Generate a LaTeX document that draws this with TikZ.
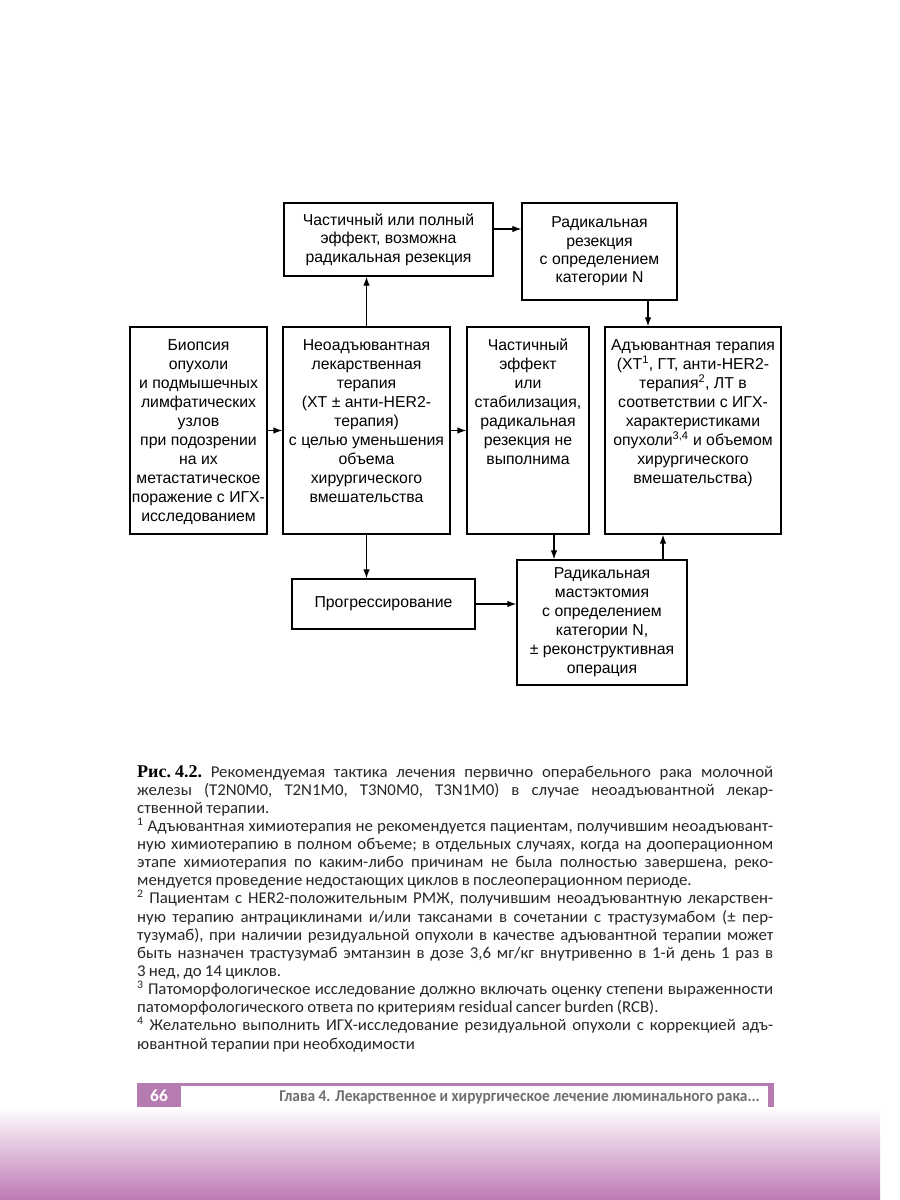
\documentclass[tikz,border=0pt]{standalone}
\usepackage{fontspec}
\usetikzlibrary{arrows.meta,calc}
\newfontfamily\diagfont{Liberation Sans}
\newfontfamily\capfont{Carlito}[FakeStretch=1.02,WordSpace=0.85]
\newfontfamily\footfont{Carlito}[FakeStretch=0.93]
\newfontfamily\figfont{Liberation Serif}
\definecolor{pmag}{HTML}{B67BB0}
\definecolor{pbot}{HTML}{BE78B4}
\definecolor{foottext}{HTML}{6E6E6E}
\definecolor{captext}{HTML}{262626}
\newcommand{\dfont}{\diagfont\fontsize{15.8pt}{19pt}\selectfont}
\newcommand{\cfont}{\capfont\fontsize{16.5pt}{18pt}\selectfont\frenchspacing}
\newcommand{\topbox}[3]{\parbox[c][#2][t]{#1}{\centering\rule{0pt}{23pt}\makebox[0pt]{\begin{tabular}[t]{@{}c@{}}#3\end{tabular}}\par}}
\tikzset{
  blk/.style={draw, line width=1.3pt, inner sep=0pt, align=center, font=\dfont},
  arr/.style={line width=1.2pt, -{Latex[length=9pt,width=6.5pt]}},
  capline/.style={anchor=base west, inner sep=0pt, font=\cfont, text=captext},
}
\begin{document}
\begin{tikzpicture}[x=1pt,y=-1pt]
\useasboundingbox (0,0) rectangle (900,1200);
% background gradient
\shade[top color=white, bottom color=pbot] (0,1106) rectangle (880,1200);

% top row
\node[blk, minimum width=209pt, minimum height=73pt, font=\diagfont\fontsize{15.8pt}{18.3pt}\selectfont] (eff) at (388.5,239.5)
  {Частичный или полный\\эффект, возможна\\радикальная резекция};
\node[blk, minimum width=155pt, minimum height=97pt, font=\diagfont\fontsize{15.8pt}{18.3pt}\selectfont] (rad) at (599.5,251.5)
  {Радикальная\\резекция\\с определением\\категории N};

% middle row
\node[blk] (bio) at (198.5,430.5) {\topbox{137pt}{207pt}{Биопсия\\опухоли\\и подмышечных\\лимфатических\\узлов\\при подозрении\\на их\\метастатическое\\поражение с ИГХ-\\исследованием}};
\node[blk] (neo) at (366.5,430.5) {\topbox{167pt}{207pt}{Неоадъювантная\\лекарственная\\терапия\\(ХТ ± анти-HER2-\\терапия)\\с целью уменьшения\\объема\\хирургического\\вмешательства}};
\node[blk] (part) at (528,430.5) {\topbox{122pt}{207pt}{Частичный\\эффект\\или\\стабилизация,\\радикальная\\резекция не\\выполнима}};
\node[blk] (adj) at (693,430.5) {\topbox{176pt}{207pt}{Адъювантная терапия\\(ХТ\textsuperscript{1}, ГТ, анти-HER2-\\терапия\textsuperscript{2}, ЛТ в\\соответствии с ИГХ-\\характеристиками\\опухоли\textsuperscript{3,4} и объемом\\хирургического\\вмешательства)}};

% bottom row
\node[blk, minimum width=183pt, minimum height=50pt] (prog) at (383.5,604) {Прогрессирование};
\node[blk, minimum width=170pt, minimum height=125pt] (mast) at (602,622.5)
  {Радикальная\\мастэктомия\\с определением\\категории N,\\± реконструктивная\\операция};

% connectors
\draw[arr] (bio.east) -- (neo.west);
\draw[arr] (neo.east) -- (part.west);
\draw[arr] (neo.north) -- (neo.north |- eff.south);
\draw[arr] ([yshift=10.5pt]eff.east) -- ([yshift=10.5pt]eff.east -| rad.west);
\draw[arr] ([xshift=48.5pt]rad.south) -- ([xshift=48.5pt]rad.south |- adj.north);
\draw[arr] (neo.south) -- (neo.south |- prog.north);
\draw[arr] (prog.east) -- (prog.east -| mast.west);
\draw[arr] ([xshift=26pt]part.south) -- ([xshift=26pt]part.south |- mast.north);
\draw[arr] ([xshift=61pt]mast.north) -- ([xshift=61pt]mast.north |- adj.south);

% caption
\node[capline] (c1) at (137,777) {\makebox[636pt][s]{{\figfont\bfseries\fontsize{18pt}{18pt}\selectfont\color{black}Рис.\kern0.22em4.2.} Рекомендуемая тактика лечения первично операбельного рака молочной}};
\node[capline] (c2) at (137,795.1) {\makebox[636pt][s]{железы (T2N0M0, T2N1M0, T3N0M0, T3N1M0) в случае неоадъювантной лекар-}};
\node[capline] (c3) at (137,813.3) {ственной терапии.};
\node[capline] (c4) at (137,831.4) {\makebox[636pt][s]{\textsuperscript{1} Адъювантная химиотерапия не рекомендуется пациентам, получившим неоадъювант-}};
\node[capline] (c5) at (137,849.5) {\makebox[636pt][s]{ную химиотерапию в полном объеме; в отдельных случаях, когда на дооперационном}};
\node[capline] (c6) at (137,867.7) {\makebox[636pt][s]{этапе химиотерапия по каким-либо причинам не была полностью завершена, реко-}};
\node[capline] (c7) at (137,885.8) {мендуется проведение недостающих циклов в послеоперационном периоде.};
\node[capline] (c8) at (137,903.9) {\makebox[636pt][s]{\textsuperscript{2} Пациентам с HER2-положительным РМЖ, получившим неоадъювантную лекарствен-}};
\node[capline] (c9) at (137,922.0) {\makebox[636pt][s]{ную терапию антрациклинами и/или таксанами в сочетании с трастузумабом (± пер-}};
\node[capline] (c10) at (137,940.2) {\makebox[636pt][s]{тузумаб), при наличии резидуальной опухоли в качестве адъювантной терапии может}};
\node[capline] (c11) at (137,958.3) {\makebox[636pt][s]{быть назначен трастузумаб эмтанзин в дозе 3,6 мг/кг внутривенно в 1-й день 1 раз в}};
\node[capline] (c12) at (137,976.4) {3 нед, до 14 циклов.};
\node[capline] (c13) at (137,994.6) {\makebox[636pt][s]{\textsuperscript{3} Патоморфологическое исследование должно включать оценку степени выраженности}};
\node[capline] (c14) at (137,1012.7) {патоморфологического ответа по критериям residual cancer burden (RCB).};
\node[capline] (c15) at (137,1030.8) {\makebox[636pt][s]{\textsuperscript{4} Желательно выполнить ИГХ-исследование резидуальной опухоли с коррекцией адъ-}};
\node[capline] (c16) at (137,1049) {ювантной терапии при необходимости};

% footer
\fill[pmag] (137,1083) rectangle (181,1107);
\draw[pmag, line width=2.5pt] (181,1084.3) -- (774,1084.3);
\fill[pmag] (768,1083) rectangle (774,1107);
\node[inner sep=0pt, text=white, font=\capfont\bfseries\fontsize{17pt}{17pt}\selectfont] (pg) at (159,1096) {66};
\node[anchor=base east, inner sep=0pt, text=foottext, font=\footfont\bfseries\fontsize{16.5pt}{17pt}\selectfont] (chap) at (760,1101) {Глава 4. Лекарственное и хирургическое лечение люминального рака...};
\end{tikzpicture}
\end{document}
